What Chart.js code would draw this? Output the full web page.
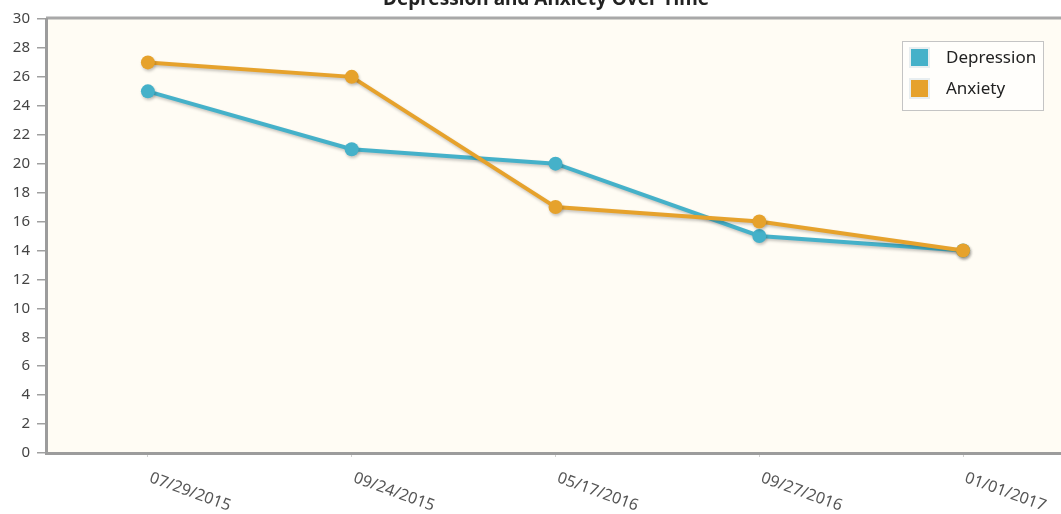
<!DOCTYPE html>
<html>
<head>
<meta charset="utf-8">
<script src="https://cdn.jsdelivr.net/npm/chart.js@4/dist/chart.umd.min.js"></script>
<style>
    body { margin: 0; background: #fff; overflow: hidden; }
    #wrap { width: 1065px; height: 514px; position: relative; }
</style>
</head>
<body>
<div id="wrap"><canvas id="moodChart"></canvas></div>
<script>
const dates = ['07/29/2015', '09/24/2015', '05/17/2016', '09/27/2016', '01/01/2017'];
const depression = [25, 21, 20, 15, 14];
const anxiety = [27, 26, 17, 16, 14];
const seriesNames = ['Depression', 'Anxiety'];
const seriesColors = ['#45b1c9', '#e6a22c'];
const chartTitle = 'Depression and Anxiety Over Time';

// plot background, top border, title, slanted date labels and boxed legend
const decorPlugin = {
    id: 'decor',
    beforeDraw(chart) {
        const { ctx, chartArea: a } = chart;
        ctx.save();
        ctx.fillStyle = '#fffcf4';
        ctx.fillRect(a.left, a.top, a.right - a.left, a.bottom - a.top);
        ctx.strokeStyle = '#a8a8a8';
        ctx.lineWidth = 3;
        ctx.beginPath();
        ctx.moveTo(a.left, a.top - 1);
        ctx.lineTo(a.right, a.top - 1);
        ctx.stroke();
        ctx.restore();
    },
    beforeDatasetsDraw(chart) {
        const ctx = chart.ctx;
        ctx.save();
        ctx.shadowColor = 'rgba(0,0,0,0.22)';
        ctx.shadowBlur = 3;
        ctx.shadowOffsetX = 1;
        ctx.shadowOffsetY = 2;
    },
    afterDatasetsDraw(chart) {
        chart.ctx.restore();
    },
    afterDraw(chart) {
        const { ctx, chartArea: a, scales } = chart;
        ctx.save();

        ctx.fillStyle = '#222';
        ctx.font = 'bold 19px "Noto Sans", sans-serif';
        ctx.textAlign = 'center';
        ctx.textBaseline = 'alphabetic';
        ctx.fillText(chartTitle, 546, 5);

        ctx.fillStyle = '#555';
        ctx.font = '16px "Noto Sans", sans-serif';
        ctx.textAlign = 'left';
        ctx.textBaseline = 'top';
        dates.forEach((d, i) => {
            const x = scales.x.getPixelForValue(i);
            ctx.save();
            ctx.translate(x + 5, a.bottom + 17);
            ctx.rotate(20 * Math.PI / 180);
            ctx.fillText(d, 0, 0);
            ctx.restore();
        });

        const bx = a.right - 163, by = a.top + 22, bw = 141, bh = 69;
        ctx.fillStyle = '#fffefb';
        ctx.fillRect(bx, by, bw, bh);
        ctx.strokeStyle = '#c4c4c4';
        ctx.lineWidth = 1;
        ctx.strokeRect(bx + 0.5, by + 0.5, bw, bh);
        ctx.font = '17px "Noto Sans", sans-serif';
        ctx.textBaseline = 'middle';
        seriesNames.forEach((name, i) => {
            const sy = by + 6 + i * 31;
            ctx.fillStyle = '#e8eef0';
            ctx.fillRect(bx + 7, sy, 21, 21);
            ctx.fillStyle = seriesColors[i];
            ctx.fillRect(bx + 9, sy + 2, 17, 17);
            ctx.fillStyle = '#222';
            ctx.fillText(name, bx + 44, sy + 11);
        });
        ctx.restore();
    }
};

new Chart(document.getElementById('moodChart'), {
    type: 'line',
    data: {
        labels: dates,
        datasets: [{
            label: seriesNames[0],
            data: depression,
            borderColor: seriesColors[0],
            backgroundColor: seriesColors[0],
            borderWidth: 4,
            pointRadius: 7,
            pointBorderWidth: 0,
            pointHoverRadius: 7,
            order: 1
        }, {
            label: seriesNames[1],
            data: anxiety,
            borderColor: seriesColors[1],
            backgroundColor: seriesColors[1],
            borderWidth: 4,
            pointRadius: 7,
            pointBorderWidth: 0,
            pointHoverRadius: 7,
            order: 0
        }]
    },
    options: {
        responsive: true,
        maintainAspectRatio: false,
        animation: false,
        layout: {
            autoPadding: false,
            padding: { top: 19, right: 0, left: 0, bottom: 0 }
        },
        plugins: {
            legend: { display: false },
            title: { display: false },
            tooltip: { enabled: false }
        },
        scales: {
            x: {
                offset: true,
                afterFit: (scale) => { scale.height = 61; },
                border: { color: '#9c9c9c', width: 3 },
                grid: {
                    drawOnChartArea: false,
                    tickLength: 4,
                    color: '#d0d0d0'
                },
                ticks: { display: false }
            },
            y: {
                min: 0,
                max: 30,
                afterFit: (scale) => { scale.width = 46; },
                border: { color: '#9c9c9c', width: 3 },
                grid: {
                    drawOnChartArea: false,
                    tickLength: 9,
                    color: '#a0a0a0',
                    lineWidth: 1.5
                },
                ticks: {
                    stepSize: 2,
                    padding: 7,
                    color: '#444',
                    font: { family: '"Noto Sans", sans-serif', size: 15 }
                }
            }
        }
    },
    plugins: [decorPlugin]
});
</script>
</body>
</html>
